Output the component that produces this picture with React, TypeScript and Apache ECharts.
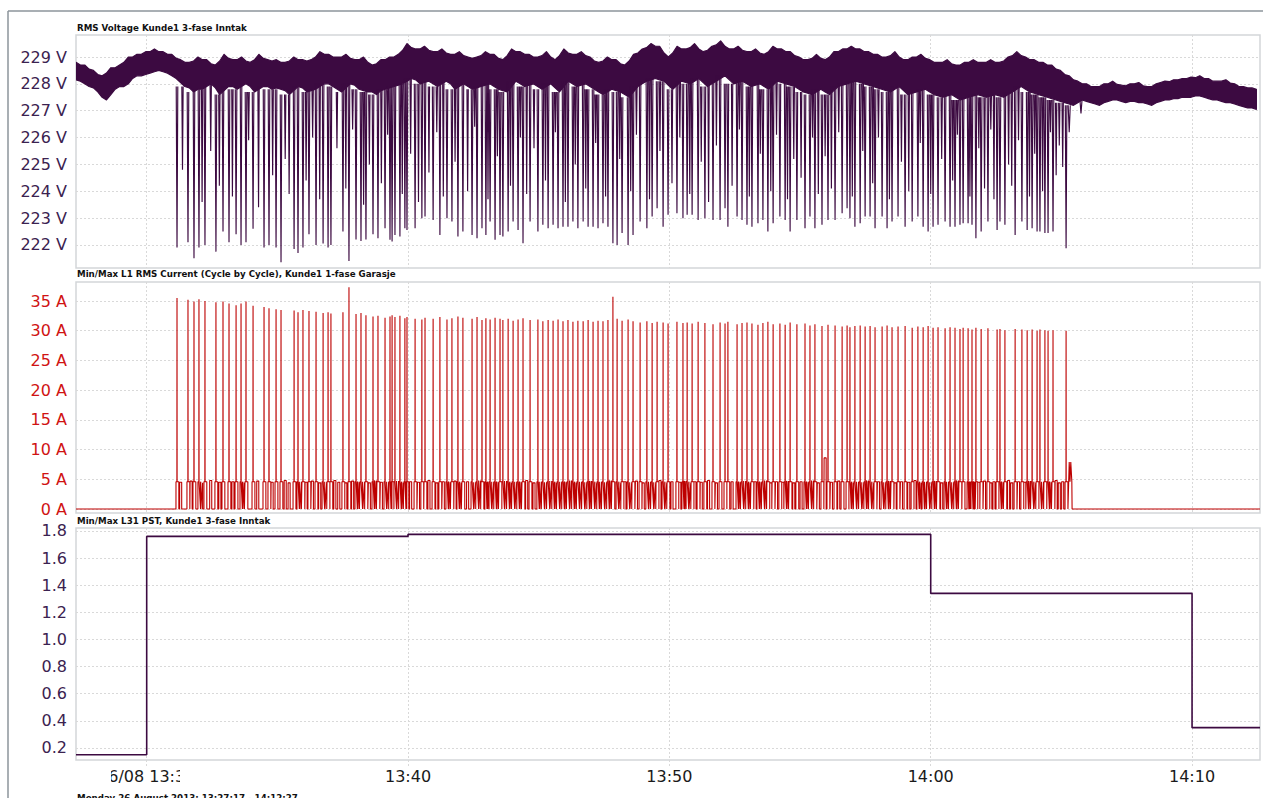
import React, { useEffect, useRef } from "react";
import * as echarts from "echarts";

// x axis: minutes after 13:00 (26/08/2013)
const X_MIN = 27.295; // 13:27:17
const X_MAX = 72.6;
const xTicks = [30, 40, 50, 60, 70];
const voltTicks = [222, 223, 224, 225, 226, 227, 228, 229];
const currentTicks = [0, 5, 10, 15, 20, 25, 30, 35];
const pstTicks = [0.2, 0.4, 0.6, 0.8, 1.0, 1.2, 1.4, 1.6, 1.8];

const titles = [
  "RMS Voltage Kunde1 3-fase Inntak",
  "Min/Max L1 RMS Current (Cycle by Cycle), Kunde1 1-fase Garasje",
  "Min/Max L31 PST, Kunde1 3-fase Inntak",
];
const footer = "Monday 26 August 2013: 13:27:17 - 14:12:27";

// Voltage band upper edge: value at each 20 s step from 13:27:17 and 10 s later
const voltHi = [
  228.8, 228.7, 228.5, 228.3, 228.6, 228.7, 229.0, 229.1, 229.2, 229.3, 229.2, 229.1,
  228.9, 228.8, 229.0, 228.9, 228.7, 229.1, 228.9, 229.0, 228.8, 229.1, 228.9,
  228.9, 228.8, 229.0, 228.9, 228.9, 229.2, 229.1, 229.0, 229.1, 228.9, 229.0,
  228.7, 228.9, 229.0, 229.1, 229.5, 229.3, 229.4, 229.2, 229.3, 229.1, 229.2, 229.0,
  229.0, 229.2, 229.1, 228.9, 229.3, 229.2, 229.1, 229.0, 229.2, 228.9, 229.3, 229.1,
  229.2, 229.0, 228.8, 229.0, 228.9, 228.7, 229.1, 229.3, 229.5, 229.4, 229.0,
  229.4, 229.3, 229.5, 229.2, 229.4, 229.6, 229.3, 229.4, 229.2, 229.3, 229.1, 229.4,
  229.3, 229.2, 229.0, 228.9, 229.1, 228.9, 229.2, 229.3, 229.4, 229.3, 229.2,
  229.1, 229.0, 229.2, 228.9, 229.0, 229.1, 228.9, 228.8, 228.9, 228.7, 228.8,
  228.9, 228.8, 228.9, 228.8, 229.0, 229.2, 229.0, 228.9, 228.8, 228.7, 228.5, 228.3,
  228.1, 228.0, 227.9, 228.0, 228.1, 227.95, 228.0, 228.05, 227.9, 228.0, 228.1,
  228.15, 228.2, 228.25, 228.3, 228.2, 228.1, 228.15, 228.0, 227.9, 227.85,
];
const voltHiMid = [
  228.7, 228.55, 228.35, 228.4, 228.6, 228.8, 229.0, 229.1, 229.2, 229.2, 229.1, 228.95,
  228.8, 228.85, 228.9, 228.75, 228.85, 228.95, 228.9, 228.85, 228.9, 228.95, 228.85,
  228.8, 228.85, 228.9, 228.85, 229.0, 229.1, 229.0, 229.0, 228.95, 228.9, 228.8,
  228.75, 228.9, 229.0, 229.25, 229.35, 229.3, 229.25, 229.2, 229.15, 229.1, 229.05, 228.95,
  229.05, 229.1, 228.95, 229.05, 229.2, 229.1, 229.0, 229.05, 229.0, 229.05, 229.15, 229.1,
  229.05, 228.85, 228.85, 228.9, 228.75, 228.85, 229.15, 229.35, 229.4, 229.15, 229.15,
  229.3, 229.35, 229.3, 229.25, 229.45, 229.4, 229.3, 229.25, 229.2, 229.15, 229.2, 229.3,
  229.2, 229.05, 228.9, 228.95, 228.95, 229.0, 229.2, 229.3, 229.3, 229.2, 229.1,
  229.0, 229.05, 229.0, 228.9, 229.0, 228.95, 228.8, 228.8, 228.75, 228.7, 228.8,
  228.8, 228.8, 228.8, 228.85, 229.05, 229.05, 228.9, 228.8, 228.7, 228.55, 228.35, 228.15,
  228.0, 227.9, 227.9, 228.0, 227.98, 227.93, 228.0, 227.93, 227.9, 228.05, 228.08,
  228.15, 228.2, 228.23, 228.2, 228.1, 228.1, 228.03, 227.9, 227.85, 227.8,
];
// Voltage band lower edge: value at each step and 10 s later
const voltLoMid = [
  228.15, 228.0, 227.85, 227.5, 227.6, 227.9, 228.0, 228.3, 228.35, 228.45, 228.45, 228.3,
  228.05, 227.85, 227.8, 227.9, 227.85, 227.75, 227.9, 227.9, 227.9, 227.8, 227.9,
  227.85, 227.75, 227.75, 227.85, 227.75, 227.9, 228.0, 227.8, 227.85, 227.95, 227.75,
  227.7, 227.75, 227.85, 227.95, 228.1, 228.15, 228.05, 228.0, 228.0, 228.0, 227.9, 227.9,
  227.85, 227.95, 227.9, 227.75, 227.9, 228.0, 227.95, 227.9, 227.9, 227.85, 227.9, 228.0,
  227.95, 227.9, 227.7, 227.7, 227.75, 227.6, 227.7, 228.0, 228.15, 228.15, 227.95,
  227.95, 228.05, 228.1, 228.05, 228.0, 228.2, 228.15, 228.05, 228.0, 227.95, 227.9, 227.95,
  228.05, 227.95, 227.8, 227.65, 227.7, 227.7, 227.75, 227.95, 228.05, 228.05, 227.95,
  227.85, 227.75, 227.8, 227.75, 227.65, 227.75, 227.7, 227.55, 227.55, 227.5, 227.45,
  227.55, 227.55, 227.55, 227.55, 227.6, 227.8, 227.8, 227.65, 227.55, 227.45, 227.35, 227.25,
  227.3, 227.35, 227.25, 227.3, 227.4, 227.35, 227.35, 227.3, 227.25, 227.3, 227.4,
  227.45, 227.5, 227.5, 227.55, 227.45, 227.4, 227.3, 227.25, 227.15, 227.1,
];
const voltLo = [
  228.1, 227.9, 227.7, 227.4, 227.8, 227.9, 228.2, 228.3, 228.4, 228.5, 228.4, 228.2,
  227.9, 227.7, 227.8, 228.0, 227.6, 227.9, 227.8, 228.0, 227.7, 227.9, 227.8,
  227.8, 227.6, 227.9, 227.7, 227.8, 228.0, 227.9, 227.7, 228.0, 227.8, 227.7,
  227.6, 227.8, 227.9, 228.0, 228.2, 228.0, 228.1, 227.9, 228.1, 227.8, 228.0, 227.8,
  227.9, 228.0, 227.8, 227.7, 228.1, 227.9, 228.0, 227.8, 228.0, 227.7, 228.1, 227.9,
  228.0, 227.8, 227.6, 227.8, 227.7, 227.5, 227.9, 228.1, 228.2, 228.1, 227.8,
  228.1, 228.0, 228.2, 227.9, 228.1, 228.3, 228.0, 228.1, 227.9, 228.0, 227.8, 228.1,
  228.0, 227.9, 227.7, 227.6, 227.8, 227.6, 227.9, 228.0, 228.1, 228.0, 227.9,
  227.8, 227.7, 227.9, 227.6, 227.7, 227.8, 227.6, 227.5, 227.6, 227.4, 227.5,
  227.6, 227.5, 227.6, 227.5, 227.7, 227.9, 227.7, 227.6, 227.5, 227.4, 227.3, 227.2,
  227.4, 227.3, 227.2, 227.35, 227.4, 227.3, 227.35, 227.3, 227.2, 227.35, 227.4,
  227.45, 227.5, 227.55, 227.5, 227.4, 227.35, 227.3, 227.2, 227.1, 227.05,
];

// Load switching events (minutes after 13:00): voltage dip minimum and current peak
const eventTimes = [
  31.16, 31.58, 31.81, 32.0, 32.23, 32.65, 32.92, 33.15, 33.42, 33.61, 33.8, 34.07, 34.49, 34.68,
  34.95, 35.14, 35.64, 35.79, 35.98, 36.21, 36.48, 36.75, 36.94, 37.05, 37.51, 37.74, 38.01, 38.2,
  38.39, 38.66, 38.85, 39.12, 39.31, 39.39, 39.5, 39.69, 39.88, 39.96, 40.27, 40.53, 40.65, 40.96,
  41.22, 41.49, 41.68, 41.91, 42.1, 42.45, 42.64, 42.83, 42.98, 43.14, 43.33, 43.52, 43.63, 43.83,
  44.02, 44.21, 44.4, 44.67, 44.97, 45.16, 45.36, 45.55, 45.74, 45.93, 46.12, 46.31, 46.5, 46.7,
  46.89, 47.08, 47.27, 47.46, 47.65, 47.84, 48.0, 48.19, 48.42, 48.61, 48.88, 49.14, 49.34, 49.53,
  49.76, 49.95, 50.29, 50.52, 50.68, 50.87, 51.1, 51.36, 51.67, 51.94, 52.13, 52.24, 52.59, 52.78,
  52.97, 53.16, 53.39, 53.58, 53.77, 53.97, 54.23, 54.43, 54.62, 54.88, 55.19, 55.38, 55.57, 55.84,
  56.07, 56.34, 56.61, 56.8, 56.91, 57.1, 57.3, 57.49, 57.68, 57.87, 58.14, 58.33, 58.52, 58.75,
  59.02, 59.29, 59.51, 59.71, 59.9, 60.09, 60.28, 60.55, 60.74, 60.93, 61.12, 61.24, 61.43, 61.58,
  61.73, 61.93, 62.19, 62.54, 62.65, 62.84, 63.23, 63.49, 63.69, 63.88, 64.07, 64.18, 64.37, 64.49,
  64.68, 65.18,
];
const dipVolts = [
  221.9, 222.1, 221.5, 221.9, 222.0, 221.75, 222.5, 222.1, 222.4, 222.0, 222.1, 222.6, 221.9, 222.0,
  221.9, 221.35, 221.85, 221.7, 221.9, 222.4, 222.0, 222.05, 221.9, 222.0, 222.5, 221.4, 222.2, 222.15,
  222.2, 222.4, 222.25, 222.62, 222.19, 222.13, 222.37, 222.31, 222.62, 222.56, 222.62, 222.99, 223.06, 222.93,
  222.37, 222.99, 222.87, 222.31, 222.5, 222.37, 222.25, 222.62, 222.37, 222.87, 222.19, 222.37, 222.31, 222.5,
  222.87, 222.56, 222.06, 222.87, 222.5, 222.75, 222.62, 222.75, 222.62, 222.68, 222.68, 222.87, 222.62, 222.87,
  222.68, 222.68, 222.62, 222.81, 222.68, 222.06, 222.0, 222.44, 222.0, 222.37, 222.87, 222.62, 223.06, 223.37,
  222.68, 223.12, 223.18, 222.99, 223.12, 223.12, 222.93, 222.99, 222.93, 222.93, 223.37, 222.68, 223.06, 222.93,
  222.75, 222.68, 222.81, 222.93, 222.5, 222.81, 223.06, 222.93, 222.5, 222.93, 222.62, 223.06, 222.62, 222.75,
  222.93, 222.93, 223.18, 223.37, 222.99, 222.68, 222.81, 223.06, 223.06, 222.62, 223.06, 222.62, 222.87, 223.06,
  222.68, 222.87, 223.06, 222.68, 222.5, 222.68, 222.75, 222.87, 222.68, 222.68, 222.75, 222.81, 222.81, 222.75,
  222.25, 222.5, 222.87, 222.56, 222.87, 222.75, 222.37, 222.87, 222.56, 222.62, 222.5, 222.5, 222.44, 222.44,
  222.5, 221.88,
];
const peakAmps = [
  35.5, 35.2, 34.9, 35.3, 35.0, 34.8, 34.9, 34.6, 34.3, 34.6, 34.9, 34.2, 34.0, 33.8,
  33.6, 33.5, 33.4, 33.1, 33.5, 33.3, 33.2, 33.0, 33.1, 32.9, 33.1, 37.3, 32.8, 33.0,
  32.6, 32.4, 32.5, 32.2, 32.4, 32.6, 32.3, 32.5, 32.1, 32.3, 32.0, 31.9, 32.2, 32.0,
  32.3, 31.9, 32.1, 32.4, 32.2, 32.0, 32.3, 31.8, 32.1, 31.9, 32.2, 32.0, 31.8, 32.0,
  31.7, 31.9, 32.1, 31.8, 31.9, 31.6, 31.8, 31.7, 31.9, 31.6, 31.8, 31.5, 31.7, 31.6,
  31.8, 31.5, 31.7, 31.6, 31.8, 35.7, 32.0, 31.7, 31.9, 31.6, 31.4, 31.6, 31.3, 31.5,
  31.4, 31.2, 31.5, 31.3, 31.4, 31.2, 31.5, 31.3, 31.1, 31.4, 31.2, 31.5, 31.1, 31.3,
  31.4, 31.2, 31.0, 31.3, 31.5, 31.1, 31.2, 31.0, 31.4, 31.1, 31.2, 30.9, 31.1, 30.8,
  31.0, 30.9, 30.7, 30.9, 30.6, 30.8, 30.9, 30.7, 30.8, 30.6, 30.7, 30.9, 30.6, 30.7,
  30.8, 30.5, 30.7, 30.6, 30.8, 30.5, 30.6, 30.4, 30.6, 30.5, 30.3, 30.5, 30.4, 30.2,
  30.5, 30.3, 30.4, 30.2, 30.3, 30.1, 30.3, 30.2, 30.1, 30.2, 30.0, 30.2, 30.1, 30.0,
  30.1, 30.0,
];
// Partial voltage dips between the main events (minutes after 13:00, V)
const shallowDipTimes = [
  31.37, 32.12, 32.45, 32.78, 33.28, 33.9, 34.28, 34.82, 35.3, 35.45, 36.1, 36.35, 36.62, 37.28,
  37.62, 37.88, 38.3, 38.52, 38.98, 39.22, 39.78, 40.1, 40.4, 40.8, 41.1, 41.35, 41.8, 42.28,
  42.55, 43.06, 43.42, 43.92, 44.3, 44.54, 44.82, 45.26, 45.64, 46.02, 46.4, 46.8, 47.18, 47.56,
  48.1, 48.52, 48.74, 49.24, 49.64, 50.1, 50.4, 50.78, 51.22, 51.5, 51.8, 52.4, 52.68, 53.06,
  53.48, 53.88, 54.1, 54.52, 54.76, 55.04, 55.48, 55.7, 55.96, 56.2, 56.48, 57.0, 57.4, 57.78,
  58.0, 58.42, 58.88, 59.16, 59.6, 60.0, 60.42, 60.84, 61.02, 61.5, 61.84, 62.06, 62.3, 62.42,
  62.98, 63.1, 63.36, 63.78, 63.98, 64.28, 64.58, 64.8, 64.92, 65.05,
];
const shallowDipVolts = [
  224.8, 223.6, 225.5, 224.2, 223.8, 225.9, 223.4, 224.6, 225.2, 223.9, 224.4, 226.0, 223.7, 225.6,
  224.1, 226.3, 223.5, 225.0, 224.3, 226.1, 223.9, 225.4, 223.6, 224.7, 226.2, 223.8, 225.1, 224.0,
  226.4, 223.7, 225.3, 224.2, 226.0, 223.9, 225.6, 224.4, 226.2, 223.6, 225.0, 224.1, 225.8, 223.8,
  225.2, 224.0, 226.1, 223.7, 225.5, 224.3, 226.0, 223.9, 225.1, 223.6, 225.7, 224.2, 226.3, 223.8,
  225.4, 224.0, 226.1, 223.7, 225.2, 224.5, 226.0, 223.9, 225.3, 224.1, 226.2, 223.8, 225.5, 224.3,
  226.0, 223.7, 225.1, 224.0, 225.8, 223.9, 225.2, 224.4, 226.1, 223.8, 225.6, 224.1, 226.3, 223.7,
  225.0, 224.2, 225.9, 223.8, 225.4, 224.0, 226.2, 224.6, 225.7, 224.9,
];
// Current level around each event (A)
const eventIdleAmps = 4.6;
// Short low-current pulses between events (minutes after 13:00, A)
const pulseTimes = [
  31.3, 31.7, 32.1, 32.45, 32.8, 33.3, 33.7, 34.25, 34.8, 35.3, 35.45, 35.88,
  36.1, 36.34, 36.62, 36.85, 37.2, 37.35, 37.62, 37.88, 38.1, 38.3, 38.52, 38.75, 38.98, 39.22,
  39.6, 39.78, 40.1, 40.4, 40.8, 41.1, 41.35, 41.58, 41.8, 42.0, 42.28, 42.55, 42.74, 43.06,
  43.24, 43.42, 43.73, 43.92, 44.12, 44.3, 44.54, 44.82, 45.06, 45.26, 45.46, 45.64, 45.84, 46.02,
  46.22, 46.4, 46.6, 46.8, 46.98, 47.18, 47.36, 47.56, 47.74, 48.1, 48.3, 48.52, 48.74, 49.0,
  49.24, 49.44, 49.64, 49.86, 50.1, 50.4, 50.6, 50.78, 50.98, 51.22, 51.5, 51.8, 52.4, 52.68,
  52.88, 53.06, 53.28, 53.48, 53.68, 53.88, 54.1, 54.34, 54.52, 54.76, 55.04, 55.28, 55.48, 55.7,
  55.96, 56.2, 56.48, 57.0, 57.2, 57.4, 57.58, 57.78, 58.0, 58.24, 58.42, 58.64, 58.88, 59.16,
  59.4, 59.6, 59.8, 60.0, 60.18, 60.42, 60.64, 60.84, 61.02, 61.5, 61.66, 61.84, 62.06, 62.3,
  62.42, 62.74, 62.98, 63.1, 63.36, 63.6, 63.78, 63.98, 64.28, 64.58, 64.8, 64.92, 65.05,
];
const pulseAmps = [
  4.5, 4.7, 4.4, 4.8, 4.5, 4.6, 4.4, 4.7, 4.5, 4.8, 4.4, 4.6,
  4.5, 4.7, 4.4, 4.6, 4.8, 4.5, 4.4, 4.7, 4.5, 4.6, 4.4, 4.8, 4.5, 4.6,
  4.7, 4.4, 4.6, 4.5, 4.8, 4.4, 4.6, 4.5, 4.7, 4.4, 4.6, 4.5, 4.8, 4.4,
  4.6, 4.5, 4.7, 4.4, 4.6, 4.5, 4.8, 4.4, 4.6, 4.5, 4.7, 4.4, 4.6, 4.5,
  4.8, 4.4, 4.6, 4.5, 4.7, 4.4, 4.6, 4.5, 4.8, 4.4, 4.6, 4.5, 4.7, 4.4,
  4.6, 4.5, 4.8, 4.4, 4.6, 4.5, 4.7, 4.4, 4.6, 4.5, 4.8, 4.4, 4.6, 4.5,
  4.7, 4.4, 4.6, 4.5, 4.8, 4.4, 4.6, 4.5, 4.7, 4.4, 4.6, 4.5, 4.8, 4.4,
  8.6, 4.5, 4.7, 4.4, 4.6, 4.5, 4.8, 4.4, 4.6, 4.5, 4.7, 4.4, 4.6, 4.5,
  4.8, 4.4, 4.6, 4.5, 4.7, 4.4, 4.6, 4.5, 4.8, 4.4, 4.6, 4.5, 4.7, 4.4,
  4.6, 4.5, 4.8, 4.4, 4.6, 4.5, 4.7, 4.4, 4.6, 4.5, 4.8, 4.4, 4.6,
];
// Smaller voltage sags at the end of the charging period
const sagTimes = [65.3, 65.75];
const sagVolts = [226.2, 226.9];
// Last current bump and end of charging
const tailTimes = [65.26, 65.3, 65.33, 65.36, 65.4, 65.41];
const tailAmps = [0, 7.9, 4.6, 7.9, 4.6, 0];

// PST (step values)
const pstTimes = [X_MIN, 30, 40, 60, 70, X_MAX];
const pstValues = [0.15, 1.76, 1.775, 1.34, 0.35, 0.35];

const VIOLET = "#3c0a41";
const RED = "#bd0000";
const GRID_LINE = "#d9d9d9";

function fmtTime(m: number) {
  const h = 13 + Math.floor(m / 60);
  const mm = Math.round(m % 60);
  const s = `${h}:${mm < 10 ? "0" + mm : mm}`;
  return m === 30 ? `26/08 ${s}` : s;
}

export default function App() {
  const ref = useRef<HTMLDivElement>(null);
  useEffect(() => {
    if (!ref.current) return;
    const chart = echarts.init(ref.current, undefined, { renderer: "svg" });

    const stepX = (k: number) => X_MIN + k / 3;
    const halfX = (k: number) => X_MIN + k / 3 + 1 / 6;
    const nearestLo = (t: number) =>
      voltLo[Math.min(voltLo.length - 1, Math.max(0, Math.round((t - X_MIN) * 3)))];

    // voltage dips as V-shaped spikes below the band
    const dips: any[] = [];
    eventTimes.forEach((t, i) => {
      const s = nearestLo(t);
      dips.push([t - 0.03, s], [t, dipVolts[i]], [t + 0.03, s], [t + 0.031, null]);
    });
    shallowDipTimes.forEach((t, i) => {
      const s = nearestLo(t);
      dips.push([t - 0.025, s], [t, shallowDipVolts[i]], [t + 0.025, s], [t + 0.026, null]);
    });
    sagTimes.forEach((t, i) => {
      const s = nearestLo(t);
      dips.push([t - 0.04, s], [t, sagVolts[i]], [t + 0.04, s], [t + 0.041, null]);
    });
    dips.sort((a, b) => a[0] - b[0]);

    // current series
    const cur: number[][] = [[X_MIN, 0]];
    eventTimes.forEach((t, i) => {
      cur.push(
        [t - 0.04, 0],
        [t - 0.039, eventIdleAmps],
        [t - 0.004, eventIdleAmps],
        [t, peakAmps[i]],
        [t + 0.004, eventIdleAmps],
        [t + 0.07, eventIdleAmps],
        [t + 0.071, 0]
      );
    });
    pulseTimes.forEach((t, i) => {
      cur.push([t - 0.04, 0], [t - 0.039, pulseAmps[i]], [t + 0.039, pulseAmps[i]], [t + 0.04, 0]);
    });
    tailTimes.forEach((t, i) => cur.push([t, tailAmps[i]]));
    cur.push([X_MAX, 0]);
    cur.sort((a, b) => a[0] - b[0]);

    const pst = pstTimes.map((t, i) => [t, pstValues[i]]);

    const grids = [
      { left: 76, top: 35, width: 1184, height: 233 },
      { left: 76, top: 282, width: 1184, height: 231 },
      { left: 76, top: 528, width: 1184, height: 232 },
    ];
    const yRanges = [
      [221.14, 229.82],
      [-0.67, 38.2],
      [0.1115, 1.822],
    ];
    const yTicks = [voltTicks, currentTicks, pstTicks];
    const yColors = ["#3b2250", "#d01313", "#3b2250"];
    const yFmt = [
      (v: number) => `${v} V`,
      (v: number) => `${v} A`,
      (v: number) => v.toFixed(1),
    ];

    const option: any = {
      animation: false,
      backgroundColor: "#ffffff",
      grid: grids.map((g) => ({
        ...g,
        show: true,
        borderColor: "#d3d6d9",
        borderWidth: 1.5,
        backgroundColor: "#ffffff",
      })),
      xAxis: grids.map((_, i) => ({
        type: "value",
        gridIndex: i,
        min: X_MIN,
        max: X_MAX,
        axisLine: { show: false },
        axisTick: {
          show: i === 2,
          customValues: xTicks,
          length: 6,
          lineStyle: { color: GRID_LINE, type: [2, 2] },
        },
        axisLabel: {
          show: i === 2,
          customValues: xTicks,
          formatter: fmtTime,
          fontFamily: "DejaVu Sans",
          fontSize: 16,
          color: "#1a1a1a",
          margin: 8,
        },
        splitLine: { show: true, lineStyle: { color: GRID_LINE, type: [2, 2] } },
      })),
      yAxis: grids.map((_, i) => ({
        type: "value",
        gridIndex: i,
        min: yRanges[i][0],
        max: yRanges[i][1],
        axisLine: { show: false },
        axisTick: { show: false, customValues: yTicks[i] },
        axisLabel: {
          customValues: yTicks[i],
          formatter: yFmt[i],
          fontFamily: "DejaVu Sans",
          fontSize: 16,
          color: yColors[i],
          margin: 9,
        },
        splitLine: { show: true, lineStyle: { color: GRID_LINE, type: [2, 2] } },
      })),
      series: [
        {
          type: "custom",
          xAxisIndex: 0,
          yAxisIndex: 0,
          clip: true,
          data: [[X_MIN, voltHi[0]]],
          renderItem: (_p: any, api: any) => {
            const pts: number[][] = [];
            voltHi.forEach((v, k) => {
              pts.push(api.coord([stepX(k), v]));
              pts.push(api.coord([halfX(k), voltHiMid[k]]));
            });
            for (let k = voltLo.length - 1; k >= 0; k--) {
              pts.push(api.coord([halfX(k), voltLo[k]]));
              pts.push(api.coord([stepX(k), voltLoMid[k]]));
            }
            return {
              type: "polygon",
              shape: { points: pts },
              style: { fill: VIOLET, stroke: VIOLET, lineWidth: 1.2, lineJoin: "round" },
            };
          },
        },
        {
          type: "line",
          xAxisIndex: 0,
          yAxisIndex: 0,
          data: dips,
          showSymbol: false,
          connectNulls: false,
          lineStyle: { color: VIOLET, width: 1.15 },
          itemStyle: { color: VIOLET },
        },
        {
          type: "line",
          xAxisIndex: 1,
          yAxisIndex: 1,
          data: cur,
          showSymbol: false,
          lineStyle: { color: RED, width: 1.1 },
          itemStyle: { color: RED },
        },
        {
          type: "line",
          xAxisIndex: 2,
          yAxisIndex: 2,
          data: pst,
          step: "end",
          showSymbol: false,
          lineStyle: { color: VIOLET, width: 1.6 },
          itemStyle: { color: VIOLET },
        },
      ],
      graphic: [
        { type: "line", shape: { x1: 8, y1: 11, x2: 1263, y2: 11 }, style: { stroke: "#8c949b", lineWidth: 1.5 }, z: 100 },
        { type: "line", shape: { x1: 8, y1: 11, x2: 8, y2: 798 }, style: { stroke: "#8c949b", lineWidth: 1.5 }, z: 100 },
        ...titles.map((t, i) => ({
          type: "text",
          x: 77,
          y: [28, 274, 521][i],
          style: {
            text: t,
            fontFamily: "DejaVu Sans",
            fontWeight: "bold",
            fontSize: 8.7,
            fill: "#111111",
            textVerticalAlign: "middle",
          },
          z: 100,
        })),
        { type: "rect", shape: { x: 80, y: 764, width: 31, height: 26 }, style: { fill: "#ffffff" }, z: 100 },
        { type: "rect", shape: { x: 180, y: 764, width: 30, height: 26 }, style: { fill: "#ffffff" }, z: 100 },
        {
          type: "text",
          x: 77,
          y: 793,
          style: {
            text: footer,
            fontFamily: "DejaVu Sans",
            fontWeight: "bold",
            fontSize: 8.7,
            fill: "#111111",
            textVerticalAlign: "top",
          },
          z: 100,
        },
      ],
    };
    chart.setOption(option);
    return () => chart.dispose();
  }, []);
  return (
    <div
      ref={ref}
      style={{ position: "fixed", left: 0, top: 0, width: 1263, height: 798, background: "#fff" }}
    />
  );
}
